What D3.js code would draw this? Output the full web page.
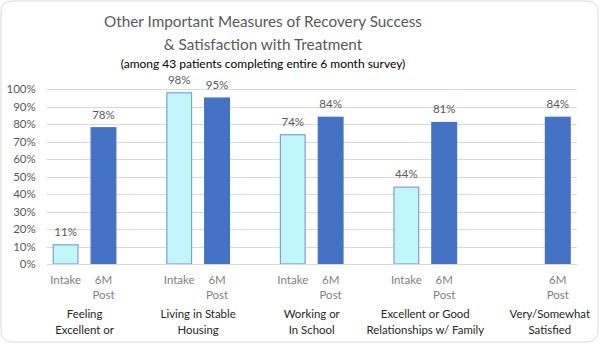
<!DOCTYPE html>
<html>
<head>
<meta charset="utf-8">
<script src="https://cdn.jsdelivr.net/npm/d3@7"></script>
<style>
  body { margin: 0; background: #fff; }
  text { font-family: Lato, "Open Sans", sans-serif; }
</style>
</head>
<body>
<div id="chart"></div>
<script>
// slots along the x axis (blank slots are the gaps between groups)
var slots = ['i1', 'p1', 'g1', 'i2', 'p2', 'g2', 'i3', 'p3', 'g3', 'i4', 'p4', 'g4', 'i5', 'p5'];
var slotLabels = ['Intake', '6M Post', '', 'Intake', '6M Post', '', 'Intake', '6M Post', '', 'Intake', '6M Post', '', '', '6M Post'];
var barSlots = ['i1', 'p1', 'i2', 'p2', 'i3', 'p3', 'i4', 'p4', 'p5'];
var barValues = [11, 78, 98, 95, 74, 84, 44, 81, 84];
var barKinds = ['intake', 'post', 'intake', 'post', 'intake', 'post', 'intake', 'post', 'post'];
var groupNames = [['Feeling', 'Excellent or'], ['Living in Stable', 'Housing'], ['Working or', 'In School'],
                  ['Excellent or Good', 'Relationships w/ Family'], ['Very/Somewhat', 'Satisfied']];
var groupSlots = [['i1', 'p1'], ['i2', 'p2'], ['i3', 'p3'], ['i4', 'p4'], ['p5', 'p5']];
var yTicks = [0, 10, 20, 30, 40, 50, 60, 70, 80, 90, 100];

var width = 600, height = 344;

var svg = d3.select('#chart').append('svg')
    .attr('width', width)
    .attr('height', height);

svg.append('rect')
    .attr('x', 1).attr('y', 1)
    .attr('width', width - 3).attr('height', height - 3)
    .attr('rx', 10)
    .attr('fill', '#fff')
    .attr('stroke', '#d9d9d9');

// titles
var title = svg.append('g').attr('transform', 'translate(263,0)');
title.append('text').attr('y', 27).attr('text-anchor', 'middle')
    .attr('font-size', 15.3).attr('fill', '#595959')
    .text('Other Important Measures of Recovery Success');
title.append('text').attr('y', 50).attr('text-anchor', 'middle')
    .attr('font-size', 15.3).attr('fill', '#595959')
    .text('& Satisfaction with Treatment');
title.append('text').attr('y', 68).attr('text-anchor', 'middle')
    .attr('font-size', 12).attr('fill', '#000')
    .text('(among 43 patients completing entire 6 month survey)');

var x = d3.scaleBand().domain(slots).range([46.7, 576.7]).paddingInner(0.32).paddingOuter(0.16);
var y = d3.scaleLinear().domain([0, 100]).range([264, 89.3]);

var chart = svg.append('g');

// gridlines
chart.append('g').selectAll('line').data(yTicks).enter().append('line')
    .attr('x1', 46.7).attr('x2', 576.7)
    .attr('y1', d => Math.round(y(d)) + 0.5).attr('y2', d => Math.round(y(d)) + 0.5)
    .attr('stroke', '#d9d9d9').attr('stroke-width', 1);

// y axis labels
var yAxis = chart.append('g').attr('transform', 'translate(46.7,0)')
    .call(d3.axisLeft(y).tickValues(yTicks).tickFormat(d => d + '%').tickSize(0).tickPadding(11));
yAxis.select('.domain').remove();
yAxis.selectAll('text').attr('font-size', 11.5).attr('fill', '#595959').attr('font-family', 'Lato, sans-serif');

// bars
var bars = chart.append('g').selectAll('g').data(barValues).enter().append('g');
bars.append('rect')
    .attr('x', (d, i) => x(barSlots[i]) + 0.5)
    .attr('y', d => y(d))
    .attr('width', x.bandwidth() - 1)
    .attr('height', d => y(0) - y(d))
    .attr('fill', (d, i) => barKinds[i] == 'intake' ? '#c1f7fb' : '#4472c4')
    .attr('stroke', (d, i) => barKinds[i] == 'intake' ? '#7ba0dc' : '#4472c4')
    .attr('stroke-width', 1.2);
bars.append('text')
    .attr('x', (d, i) => x(barSlots[i]) + x.bandwidth() / 2)
    .attr('y', d => y(d) - 9)
    .attr('text-anchor', 'middle')
    .attr('font-size', 11.5).attr('fill', '#595959')
    .text(d => d + '%');

// x axis
var xAxis = chart.append('g').attr('transform', 'translate(0,264)')
    .call(d3.axisBottom(x).tickSize(0).tickFormat(''));
xAxis.select('.domain').attr('stroke', '#d9d9d9');
xAxis.selectAll('.tick').each(function (d, i) {
    var parts = slotLabels[i].split(' ');
    var t = d3.select(this).append('text')
        .attr('text-anchor', 'middle')
        .attr('font-size', 11.5).attr('fill', '#7f7f7f');
    parts.forEach((p, j) => {
        if (p) t.append('tspan').attr('x', 0).attr('y', 20 + j * 14.5).text(p);
    });
});

// group labels
var groups = chart.append('g').selectAll('text').data(groupNames).enter().append('text')
    .attr('text-anchor', 'middle')
    .attr('font-size', 11.4).attr('fill', '#262626')
    .attr('transform', (d, i) => {
        var cx = (x(groupSlots[i][0]) + x(groupSlots[i][1]) + x.bandwidth()) / 2;
        if (i == 4) cx -= 8;
        return 'translate(' + cx + ',0)';
    });
groups.selectAll('tspan').data(d => d).enter().append('tspan')
    .attr('x', 0).attr('y', (d, j) => 318 + j * 15.5)
    .text(d => d);
</script>
</body>
</html>
